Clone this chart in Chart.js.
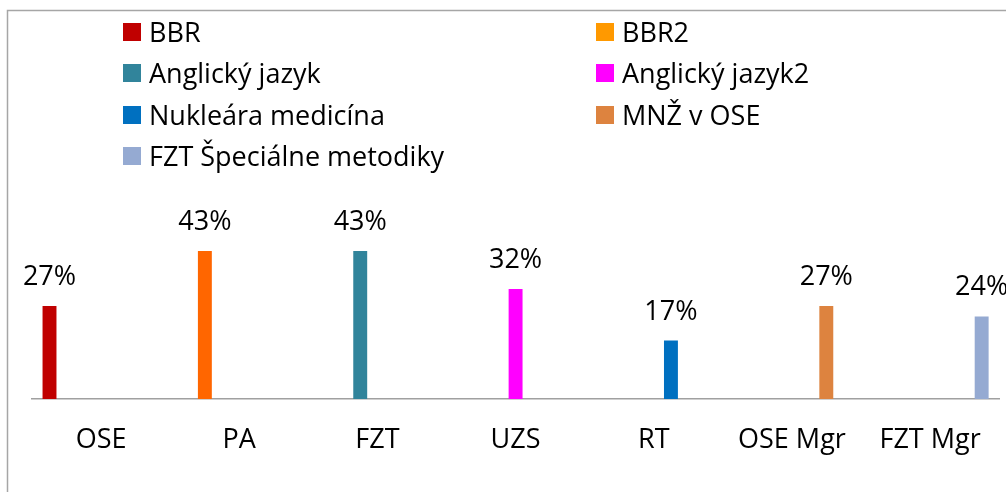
<!DOCTYPE html>
<html>
<head>
<meta charset="utf-8">
<style>
  html, body { margin: 0; padding: 0; background: #fff; }
  #wrap { width: 1006px; height: 492px; }
</style>
</head>
<body>
<div id="wrap"><canvas id="chartStudy"></canvas></div>
<script src="https://cdn.jsdelivr.net/npm/chart.js@4"></script>
<script>
const categories = ['OSE', 'PA', 'FZT', 'UZS', 'RT', 'OSE Mgr', 'FZT Mgr'];
const seriesNames = ['BBR', 'BBR2', 'Anglický jazyk', 'Anglický jazyk2', 'Nukleára medicína', 'MNŽ v OSE', 'FZT Špeciálne metodiky'];
// one value per series, each sits in its own category
const seriesValues = [27, 43, 43, 32, 17, 27, 24];
const barColors = ['#C00000', '#FF6600', '#31849B', '#FF00FF', '#0070C0', '#DD833F', '#95AAD2'];
const legendColors = ['#C00000', '#FF9900', '#31849B', '#FF00FF', '#0070C0', '#DD833F', '#95AAD2'];

(function() {
    const FONT = '"Open Sans", sans-serif';
    const FSIZE = 27;

    const datasets = seriesNames.map((name, i) => ({
        label: name,
        data: categories.map((c, j) => j === i ? seriesValues[i] : null),
        backgroundColor: barColors[i],
        legendColor: legendColors[i],
        categoryPercentage: 0.871,
        barPercentage: 0.81
    }));

    // outer frame, like the excel chart border (cut off on right/bottom)
    const framePlugin = {
        id: 'frame',
        beforeDraw(chart) {
            const ctx = chart.ctx;
            ctx.save();
            ctx.strokeStyle = '#a6a6a6';
            ctx.lineWidth = 1.5;
            ctx.beginPath();
            ctx.moveTo(7.5, 500);
            ctx.lineTo(7.5, 10.5);
            ctx.lineTo(1010, 10.5);
            ctx.stroke();
            ctx.restore();
        }
    };

    // two column legend
    const legendPlugin = {
        id: 'twoColLegend',
        afterDraw(chart) {
            const ctx = chart.ctx;
            const colX = [123, 596];
            const rowY = [32, 73, 115, 156];
            ctx.save();
            ctx.font = FSIZE + 'px ' + FONT;
            ctx.textBaseline = 'alphabetic';
            chart.data.datasets.forEach((ds, i) => {
                const x = colX[i % 2], y = rowY[Math.floor(i / 2)];
                ctx.fillStyle = ds.legendColor;
                ctx.fillRect(x, y - 9, 18, 18);
                ctx.fillStyle = '#000';
                ctx.fillText(ds.label, x + 26, y + 9.5);
            });
            ctx.restore();
        }
    };

    const valueLabels = {
        id: 'valueLabels',
        afterDatasetsDraw(chart) {
            const ctx = chart.ctx;
            ctx.save();
            ctx.font = FSIZE + 'px ' + FONT;
            ctx.fillStyle = '#000';
            ctx.textAlign = 'center';
            ctx.textBaseline = 'alphabetic';
            chart.data.datasets.forEach((ds, i) => {
                chart.getDatasetMeta(i).data.forEach((bar, j) => {
                    const v = ds.data[j];
                    if (v === null) return;
                    ctx.fillText(v + '%', bar.x, bar.y - 21);
                });
            });
            ctx.restore();
        }
    };

    new Chart(document.getElementById('chartStudy').getContext('2d'), {
        type: 'bar',
        data: { labels: categories, datasets: datasets },
        options: {
            responsive: true,
            maintainAspectRatio: false,
            animation: false,
            layout: { padding: { top: 227, left: 32, right: 4, bottom: 10.6 } },
            plugins: {
                legend: { display: false },
                tooltip: { enabled: false }
            },
            scales: {
                x: {
                    grid: { display: false, drawTicks: false },
                    border: { display: true, color: '#a0a0a0', width: 1.5 },
                    ticks: { color: '#000', padding: 25, font: { family: FONT, size: FSIZE } }
                },
                y: {
                    display: false,
                    min: 0,
                    max: 50
                }
            }
        },
        plugins: [framePlugin, legendPlugin, valueLabels]
    });
})();
</script>
</body>
</html>
